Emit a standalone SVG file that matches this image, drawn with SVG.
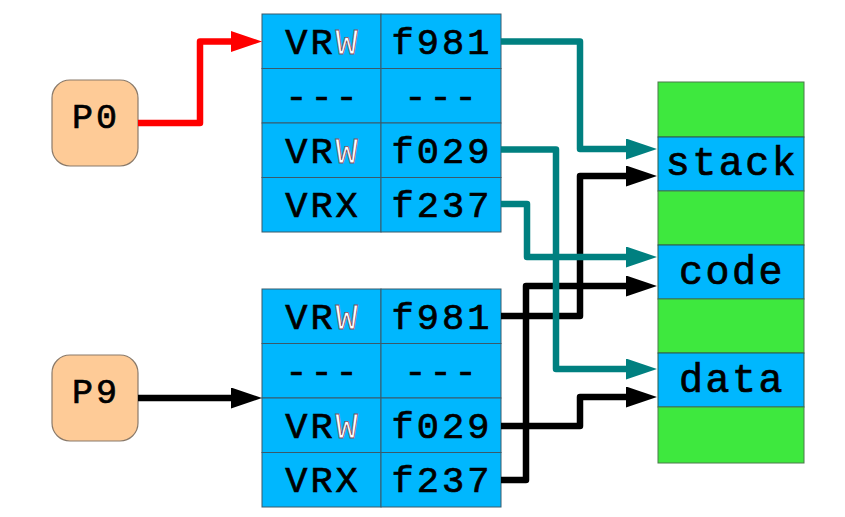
<svg xmlns="http://www.w3.org/2000/svg" width="845" height="517" viewBox="0 0 845 517">
<defs>
<style>
.cell{fill:#00b7fe;stroke:#3a5a6a;stroke-width:1}
.green{fill:#3ee83e;stroke:#4a7a4a;stroke-width:1}
.blue{fill:#00b7fe;stroke:#2a5a4a;stroke-width:1}
.proc{fill:#fecb97;stroke:#8a7a6a;stroke-width:1.2}
.t{font-family:"Liberation Mono","DejaVu Sans Mono",monospace;font-size:37px;letter-spacing:3px;fill:#000;stroke:#000;stroke-width:0.7;text-anchor:middle}
.m{font-family:"Liberation Mono","DejaVu Sans Mono",monospace;font-size:40px;letter-spacing:2.5px;fill:#000;stroke:#000;stroke-width:0.7;text-anchor:middle}
.p{font-family:"Liberation Mono","DejaVu Sans Mono",monospace;font-size:35px;letter-spacing:3px;fill:#000;stroke:#000;stroke-width:0.7;text-anchor:middle}
.w{fill:#fff;stroke:#8a5060;stroke-width:0.8}
.ln{fill:none;stroke-width:6.5;stroke-linejoin:round}
.red{stroke:#ff0000}
.teal{stroke:#008080}
.blk{stroke:#000}
</style>
<marker id="aRed" markerUnits="userSpaceOnUse" markerWidth="32" markerHeight="22" refX="11" refY="10.5" orient="auto"><path d="M0,0 L31,10.5 L0,21 z" fill="#ff0000"/></marker>
<marker id="aTeal" markerUnits="userSpaceOnUse" markerWidth="32" markerHeight="22" refX="11" refY="10.5" orient="auto"><path d="M0,0 L31,10.5 L0,21 z" fill="#008080"/></marker>
<marker id="aBlk" markerUnits="userSpaceOnUse" markerWidth="32" markerHeight="22" refX="11" refY="10.5" orient="auto"><path d="M0,0 L31,10.5 L0,21 z" fill="#000"/></marker>
</defs>
<rect width="845" height="517" fill="#fff"/>

<g id="P0">
<rect class="proc" x="52" y="80" width="86" height="86" rx="18"/>
<text class="p" x="96" y="128">P0</text>
</g>
<g id="P9">
<rect class="proc" x="52" y="355" width="86" height="86" rx="18"/>
<text class="p" x="96" y="403">P9</text>
</g>

<g id="table0">
<rect class="cell" x="262" y="14" width="119" height="54.5"/>
<rect class="cell" x="381" y="14" width="120" height="54.5"/>
<rect class="cell" x="262" y="68.5" width="119" height="54.5"/>
<rect class="cell" x="381" y="68.5" width="120" height="54.5"/>
<rect class="cell" x="262" y="123" width="119" height="54.5"/>
<rect class="cell" x="381" y="123" width="120" height="54.5"/>
<rect class="cell" x="262" y="177.5" width="119" height="54.5"/>
<rect class="cell" x="381" y="177.5" width="120" height="54.5"/>
<text class="t" x="323" y="53.5">VR<tspan class="w">W</tspan></text>
<text class="t" x="442" y="53.5">f981</text>
<text class="t" x="323" y="108">---</text>
<text class="t" x="442" y="108">---</text>
<text class="t" x="323" y="162.5">VR<tspan class="w">W</tspan></text>
<text class="t" x="442" y="162.5">f029</text>
<text class="t" x="323" y="217">VRX</text>
<text class="t" x="442" y="217">f237</text>
</g>

<g id="table9">
<rect class="cell" x="262" y="289" width="119" height="54.5"/>
<rect class="cell" x="381" y="289" width="120" height="54.5"/>
<rect class="cell" x="262" y="343.5" width="119" height="54.5"/>
<rect class="cell" x="381" y="343.5" width="120" height="54.5"/>
<rect class="cell" x="262" y="398" width="119" height="54.5"/>
<rect class="cell" x="381" y="398" width="120" height="54.5"/>
<rect class="cell" x="262" y="452.5" width="119" height="54.5"/>
<rect class="cell" x="381" y="452.5" width="120" height="54.5"/>
<text class="t" x="323" y="328.5">VR<tspan class="w">W</tspan></text>
<text class="t" x="442" y="328.5">f981</text>
<text class="t" x="323" y="383">---</text>
<text class="t" x="442" y="383">---</text>
<text class="t" x="323" y="437.5">VR<tspan class="w">W</tspan></text>
<text class="t" x="442" y="437.5">f029</text>
<text class="t" x="323" y="492">VRX</text>
<text class="t" x="442" y="492">f237</text>
</g>

<g id="memory">
<rect class="green" x="658" y="82" width="146" height="55"/>
<rect class="blue" x="658" y="137" width="146" height="54"/>
<rect class="green" x="658" y="191" width="146" height="54"/>
<rect class="blue" x="658" y="245" width="146" height="54"/>
<rect class="green" x="658" y="299" width="146" height="54"/>
<rect class="blue" x="658" y="353" width="146" height="54"/>
<rect class="green" x="658" y="407" width="146" height="56"/>
<text class="m" x="732" y="175">stack</text>
<text class="m" x="732" y="284">code</text>
<text class="m" x="732" y="392">data</text>
</g>

<g id="connectors">
<path class="ln red" d="M138,123 H200 V41.5 H242" marker-end="url(#aRed)"/>
<path class="ln blk" d="M138,398 H242" marker-end="url(#aBlk)"/>
<path class="ln blk" d="M501,316 H580 V176 H637" marker-end="url(#aBlk)"/>
<path class="ln blk" d="M501,426 H580 V397 H637" marker-end="url(#aBlk)"/>
<path class="ln blk" d="M501,480 H526 V286 H637" marker-end="url(#aBlk)"/>
<path class="ln teal" d="M501,41.5 H580 V149 H637" marker-end="url(#aTeal)"/>
<path class="ln teal" d="M501,149.5 H556 V369 H637" marker-end="url(#aTeal)"/>
<path class="ln teal" d="M501,204 H527 V257 H637" marker-end="url(#aTeal)"/>
</g>
</svg>
